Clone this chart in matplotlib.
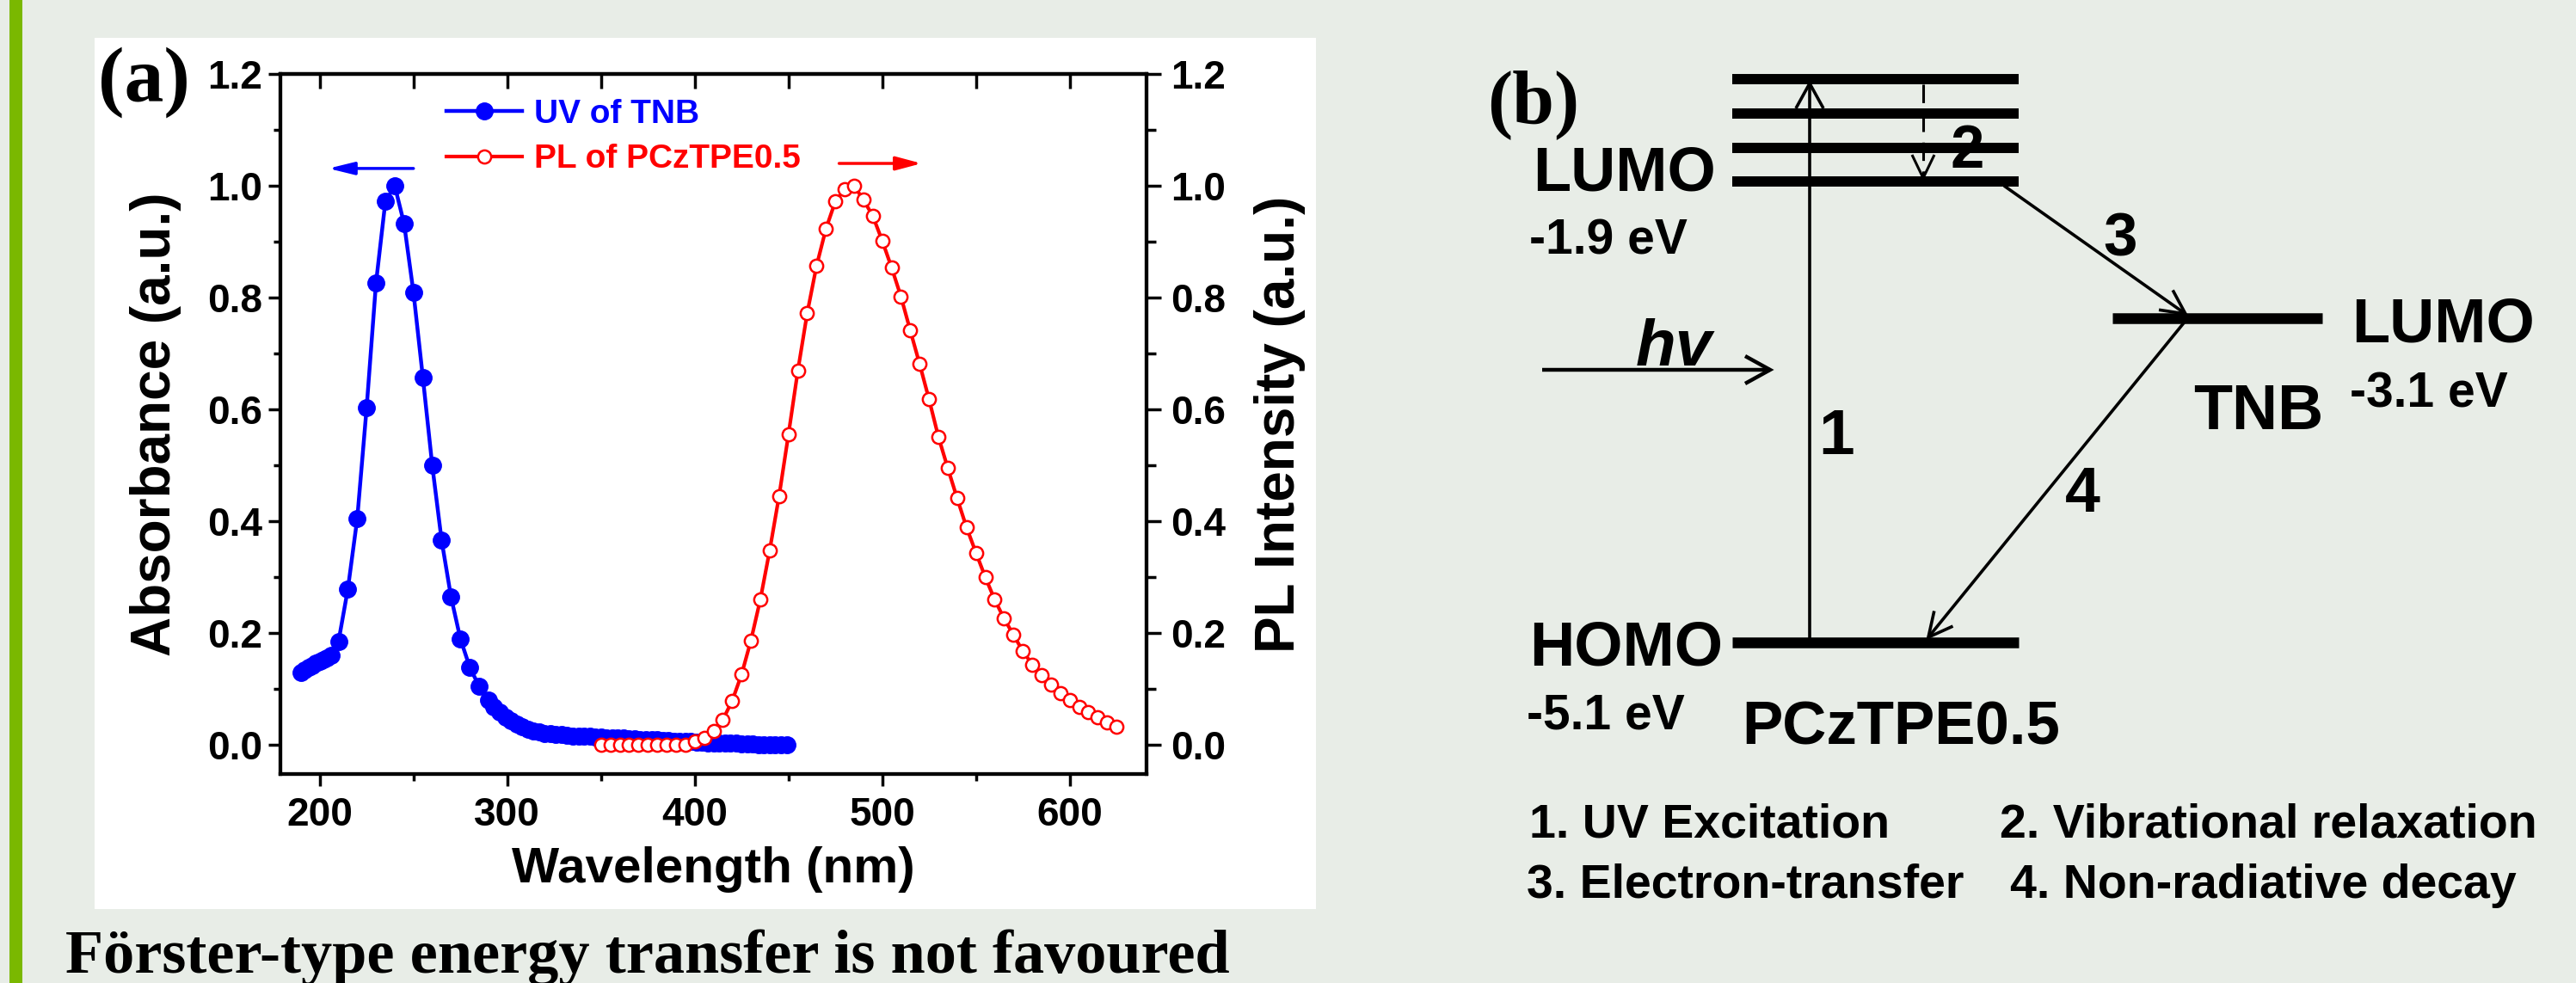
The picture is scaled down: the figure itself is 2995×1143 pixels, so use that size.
import math
import matplotlib
matplotlib.use('Agg')
import matplotlib.pyplot as plt
from matplotlib.ticker import MultipleLocator
from matplotlib.patches import Rectangle

plt.rcParams['font.family'] = ['Liberation Sans', 'DejaVu Sans']
plt.rcParams['font.weight'] = 'bold'
plt.rcParams['axes.labelweight'] = 'bold'

# ---------------- data ----------------
uv_wavelength = [190, 192, 194, 196, 198, 200, 202, 204, 206,
                 210, 215, 220, 225, 230, 235, 240, 245, 250, 255, 260, 265,
                 270, 275, 280, 285, 290,
                 293, 296, 299, 302, 305, 308, 311, 314, 317, 320, 323, 326,
                 329, 332, 335, 338, 341, 344, 347, 350, 353, 356, 359, 362,
                 365, 368, 371, 374, 377, 380, 383, 386, 389, 392, 395, 398,
                 401, 404, 407, 410, 413, 416, 419, 422, 425, 428, 431, 434,
                 437, 440, 443, 446, 449]
uv_absorbance = [0.130, 0.134, 0.138, 0.142, 0.146, 0.149, 0.152, 0.155, 0.160,
                 0.185, 0.279, 0.405, 0.603, 0.826, 0.972, 1.000, 0.932, 0.809,
                 0.657, 0.500, 0.366, 0.265, 0.190, 0.139, 0.105, 0.080,
                 0.068, 0.058, 0.050, 0.043, 0.037, 0.032, 0.028, 0.025, 0.023,
                 0.021, 0.020, 0.019, 0.018, 0.017, 0.016, 0.016, 0.015, 0.015,
                 0.014, 0.014, 0.013, 0.013, 0.012, 0.012, 0.011, 0.011, 0.010,
                 0.010, 0.009, 0.009, 0.008, 0.008, 0.007, 0.007, 0.006, 0.006,
                 0.005, 0.005, 0.004, 0.004, 0.004, 0.003, 0.003, 0.003, 0.002,
                 0.002, 0.002, 0.001, 0.001, 0.001, 0.001, 0.000, 0.000]

pl_wavelength = [350, 355, 360, 365, 370, 375, 380, 385, 390, 395,
                 400, 405, 410, 415, 420, 425, 430, 435, 440, 445,
                 450, 455, 460, 465, 470, 475, 480, 485, 490, 495,
                 500, 505, 510, 515, 520, 525, 530, 535, 540, 545,
                 550, 555, 560, 565, 570, 575, 580, 585, 590, 595,
                 600, 605, 610, 615, 620, 625]
pl_intensity = [0.000, 0.000, 0.000, 0.000, 0.000, 0.000, 0.000, 0.000, 0.000, 0.000,
                0.007, 0.012, 0.025, 0.045, 0.079, 0.126, 0.187, 0.260, 0.348, 0.445,
                0.555, 0.669, 0.772, 0.857, 0.923, 0.972, 0.994, 1.000, 0.975, 0.946,
                0.902, 0.854, 0.802, 0.741, 0.681, 0.618, 0.551, 0.495, 0.441, 0.389,
                0.344, 0.300, 0.260, 0.226, 0.197, 0.168, 0.144, 0.125, 0.108, 0.092,
                0.080, 0.068, 0.058, 0.049, 0.040, 0.032]

x_ticks = [200, 300, 400, 500, 600]
y_ticks = [0.0, 0.2, 0.4, 0.6, 0.8, 1.0, 1.2]
y_tick_labels = ['0.0', '0.2', '0.4', '0.6', '0.8', '1.0', '1.2']

legend_labels = ['UV of TNB', 'PL of PCzTPE0.5']
caption = 'Förster-type energy transfer is not favoured'
process_notes = ['1. UV Excitation', '2. Vibrational relaxation',
                 '3. Electron-transfer', '4. Non-radiative decay']

# ---------------- figure ----------------
W, H = 2995, 1143
DPI = 100
BG = '#E8EDE7'
fig = plt.figure(figsize=(W / DPI, H / DPI), dpi=DPI, facecolor=BG)

def fx(x):
    return x / W

def fy(y):
    return 1 - y / H

# overlay axes in pixel units (y downward)
ov = fig.add_axes([0, 0, 1, 1])
ov.set_xlim(0, W)
ov.set_ylim(H, 0)
ov.axis('off')
ov.set_zorder(0)

# green bar and white panel
ov.add_patch(Rectangle((11, 0), 15, H, color='#7AB800', lw=0))
ov.add_patch(Rectangle((110, 44), 1420, 1013, color='white', lw=0))

# ---------------- panel (a) ----------------
ax = fig.add_axes([fx(326), fy(900), (1333 - 326) / W, (900 - 86) / H])
ax.set_zorder(1)
ax.patch.set_alpha(0)
l1, = ax.plot(uv_wavelength, uv_absorbance, '-o', color='blue', lw=3.2, ms=14,
              label=legend_labels[0], zorder=3)
ax.set_xlim(179, 641)
ax.set_ylim(-0.052, 1.2)
ax.set_xticks(x_ticks)
ax.xaxis.set_minor_locator(MultipleLocator(50))
ax.set_yticks(y_ticks)
ax.set_yticklabels(y_tick_labels)
ax.yaxis.set_minor_locator(MultipleLocator(0.1))
ax.tick_params(which='major', direction='out', length=10, width=2.5, labelsize=33)
ax.tick_params(which='minor', direction='out', length=6, width=2.5)
ax.tick_params(axis='x', which='both', top=False, pad=9)
ax.tick_params(axis='y', which='both', right=False, pad=5)
for s in ax.spines.values():
    s.set_linewidth(3)
ax.set_xlabel('Wavelength (nm)', fontsize=42, fontweight='bold', labelpad=10)
ax.set_ylabel('Absorbance (a.u.)', fontsize=46, fontweight='bold', labelpad=22)

sec = ax.secondary_xaxis('top')
sec.set_xticks(x_ticks)
sec.xaxis.set_minor_locator(MultipleLocator(50))
sec.tick_params(which='both', direction='in', length=12, width=2.5,
                labeltop=False, labelbottom=False)
sec.spines['top'].set_linewidth(3)

ax2 = ax.twinx()
ax2.set_zorder(2)
l2, = ax2.plot(pl_wavelength, pl_intensity, '-o', color='red', mfc='white', mec='red',
               mew=1.8, lw=3.0, ms=11, label=legend_labels[1], zorder=3)
ax2.set_ylim(-0.052, 1.2)
ax2.set_yticks(y_ticks)
ax2.set_yticklabels(y_tick_labels)
ax2.yaxis.set_minor_locator(MultipleLocator(0.1))
ax2.tick_params(axis='y', which='major', direction='out', length=12, width=2.5,
                labelsize=33, pad=8)
ax2.tick_params(axis='y', which='minor', direction='out', length=8, width=2.5)
for s in ax2.spines.values():
    s.set_linewidth(3)
ax2.set_ylabel('PL Intensity (a.u.)', fontsize=46, fontweight='bold', labelpad=24)

ax2.legend([l1, l2], legend_labels, loc='upper left',
           bbox_to_anchor=(fx(519), fy(115)), bbox_transform=fig.transFigure,
           frameon=False, prop=dict(weight='bold', size=28),
           labelcolor='linecolor', handlelength=2.26, handletextpad=0.36,
           labelspacing=0.42, borderpad=0, borderaxespad=0)

ax.annotate('', xy=(204.6, 1.031), xytext=(250, 1.031),
            arrowprops=dict(arrowstyle='-|>,head_length=0.9,head_width=0.22',
                            color='blue', lw=2.5, mutation_scale=20,
                            shrinkA=0, shrinkB=0))
ax2.annotate('', xy=(521, 1.04), xytext=(477, 1.04),
             arrowprops=dict(arrowstyle='-|>,head_length=0.9,head_width=0.24',
                             color='red', lw=2.5, mutation_scale=20,
                             shrinkA=0, shrinkB=0))

ov.text(114, 118, '(a)', family=['Liberation Serif'], weight='bold', size=66,
        va='baseline', ha='left')
ov.text(76, 1131, caption, family=['Liberation Serif'], weight='bold', size=52,
        va='baseline', ha='left')

# ---------------- panel (b) ----------------
def hline(x0, x1, y, lw=8.6):
    ov.plot([x0, x1], [y, y], color='black', lw=lw, solid_capstyle='butt')

def arrow(x0, y0, x1, y1, hl=28, hw=14, lw=2.6, dashed=False):
    if dashed:
        ov.plot([x0, x1], [y0, y1], color='black', lw=lw, dashes=[7, 4])
    else:
        ov.plot([x0, x1], [y0, y1], color='black', lw=lw, solid_capstyle='butt')
    dx, dy = x1 - x0, y1 - y0
    L = math.hypot(dx, dy)
    ux, uy = dx / L, dy / L
    px, py = -uy, ux
    bx, by = x1 - ux * hl, y1 - uy * hl
    ov.plot([bx + px * hw, x1, bx - px * hw], [by + py * hw, y1, by - py * hw],
            color='black', lw=lw, solid_joinstyle='miter', solid_capstyle='butt')

for yl in [92, 132, 172, 210.5]:
    hline(2014, 2347, yl)
hline(2014, 2347, 747, lw=9)
hline(2456, 2700, 370, lw=9)

arrow(2104, 743, 2104, 97, hl=29, hw=16)
arrow(2236, 98, 2236, 207, hl=27, hw=13, lw=2.2, dashed=True)
arrow(2330, 216, 2541, 365)
arrow(2541, 373, 2242, 741)
arrow(1793, 430, 2058, 430, hl=29, hw=16, lw=3.2)

def t(x, y, s, size, **kw):
    ov.text(x, y, s, size=size, va='baseline', ha='left', **kw)

t(1729, 143, '(b)', 63, family=['Liberation Serif'], weight='bold')
t(1782, 222, 'LUMO', 52)
t(1778, 295, '-1.9 eV', 41)
t(1778, 773, 'HOMO', 52)
t(1775, 847, '-5.1 eV', 41)
t(2025, 866, 'PCzTPE0.5', 51)
t(2734, 398, 'LUMO', 52)
t(2550, 499, 'TNB', 53)
t(2732, 473, '-3.1 eV', 41)
t(1902, 425, 'hv', 55, style='italic')
t(2114, 528, '1', 54)
t(2267, 195, '2', 51)
t(2445, 298, '3', 51)
t(2401, 595, '4', 53)
t(1778, 974, process_notes[0], 40)
t(2325, 974, process_notes[1], 40)
t(1775, 1044, process_notes[2], 40)
t(2337, 1044, process_notes[3], 40)

fig.savefig('out.png', dpi=DPI, facecolor=BG)
